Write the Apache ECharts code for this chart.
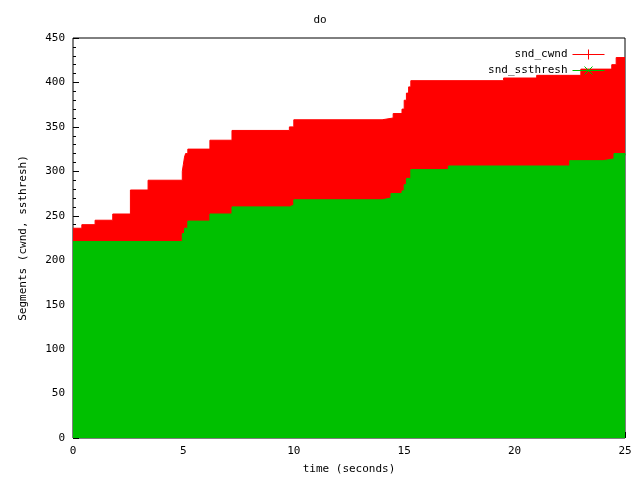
<!DOCTYPE html>
<html><head><meta charset="utf-8">
<script src="https://cdn.jsdelivr.net/npm/echarts@6/dist/echarts.min.js"></script>
<style>html,body{margin:0;background:#fff}#c{width:640px;height:480px}</style>
</head><body><div id="c"></div>
<script>
// snd_cwnd steps (time, segments)
var cwndT = [0, 0.4, 1.0, 1.8, 2.6, 3.4, 4.95, 5.0, 5.05, 5.1, 5.2, 6.2, 7.2, 9.8, 10.0, 14.0, 14.5, 14.9, 15.0, 15.1, 15.2, 15.3, 19.5, 21.0, 23.0, 24.4, 24.6, 25.0];
var cwndV = [236, 240, 245, 252, 279, 290, 300, 308, 316, 320, 325, 335, 346, 350, 358, 360, 365, 370, 380, 388, 395, 402, 405, 408, 415, 420, 428, 428];
// snd_ssthresh steps
var ssT = [0, 4.95, 5.05, 5.2, 6.2, 7.2, 9.8, 10.0, 14.0, 14.4, 14.9, 15.0, 15.1, 15.3, 17.0, 22.5, 24.0, 24.5, 25.0];
var ssV = [221, 230, 236, 244, 252, 260, 262, 268, 270, 275, 278, 285, 292, 302, 306, 312, 314, 320, 318];
var xTicks = [0, 5, 10, 15, 20, 25];
var yTicks = [0, 50, 100, 150, 200, 250, 300, 350, 400, 450];

function pairs(t, v){ return t.map(function(x,i){ return [x, v[i]]; }); }
var font = 'DejaVu Sans Mono';
var chart = echarts.init(document.getElementById('c'));
chart.setOption({
  animation: false,
  backgroundColor: '#fff',
  title: { text: 'do', left: 'center', top: 10, textStyle: { fontFamily: font, fontSize: 11, fontWeight: 'normal', color: '#000' } },
  grid: { left: 73, right: 15, top: 38, bottom: 42, show: true, borderColor: '#000', borderWidth: 1 },
  legend: {
    right: 28, top: 42, orient: 'vertical', align: 'right', itemGap: 2, itemWidth: 32, itemHeight: 10,
    textStyle: { fontFamily: font, fontSize: 11, color: '#000' },
    data: [
      { name: 'snd_cwnd', icon: 'path://M0,5L32,5M16,0L16,10M11,5L21,5', itemStyle: { color: 'none', borderColor: '#ff0000', borderWidth: 1 } },
      { name: 'snd_ssthresh', icon: 'path://M0,5L32,5M12,1L20,9M12,9L20,1', itemStyle: { color: 'none', borderColor: '#00c000', borderWidth: 1 } }
    ]
  },
  xAxis: {
    type: 'value', min: 0, max: 25, interval: 5,
    name: 'time (seconds)', nameLocation: 'middle', nameGap: 26,
    nameTextStyle: { fontFamily: font, fontSize: 11, color: '#000' },
    axisLine: { show: false }, splitLine: { show: false },
    axisTick: { inside: true, length: 6, lineStyle: { color: '#000' } },
    minorTick: { show: true, splitNumber: 5, length: 3, lineStyle: { color: '#000' } },
    axisLabel: { fontFamily: font, fontSize: 11, color: '#000', formatter: function(v){ return xTicks.indexOf(v) >= 0 ? String(v) : ''; } }
  },
  yAxis: {
    type: 'value', min: 0, max: 450, interval: 50,
    name: 'Segments (cwnd, ssthresh)', nameLocation: 'middle', nameGap: 44,
    nameTextStyle: { fontFamily: font, fontSize: 11, color: '#000' },
    axisLine: { show: false }, splitLine: { show: false },
    axisTick: { inside: true, length: 6, lineStyle: { color: '#000' } },
    minorTick: { show: true, splitNumber: 5, length: 3, lineStyle: { color: '#000' } },
    axisLabel: { fontFamily: font, fontSize: 11, color: '#000', formatter: function(v){ return yTicks.indexOf(v) >= 0 ? String(v) : ''; } }
  },
  series: [
    { name: 'snd_cwnd', type: 'line', step: 'end', showSymbol: false, data: pairs(cwndT, cwndV),
      lineStyle: { color: '#ff0000', width: 1 }, itemStyle: { color: '#ff0000' }, areaStyle: { color: '#ff0000', opacity: 1 } },
    { name: 'snd_ssthresh', type: 'line', step: 'end', showSymbol: false, data: pairs(ssT, ssV),
      lineStyle: { color: '#00c000', width: 1 }, itemStyle: { color: '#00c000' }, areaStyle: { color: '#00c000', opacity: 1 } }
  ]
});
</script></body></html>
